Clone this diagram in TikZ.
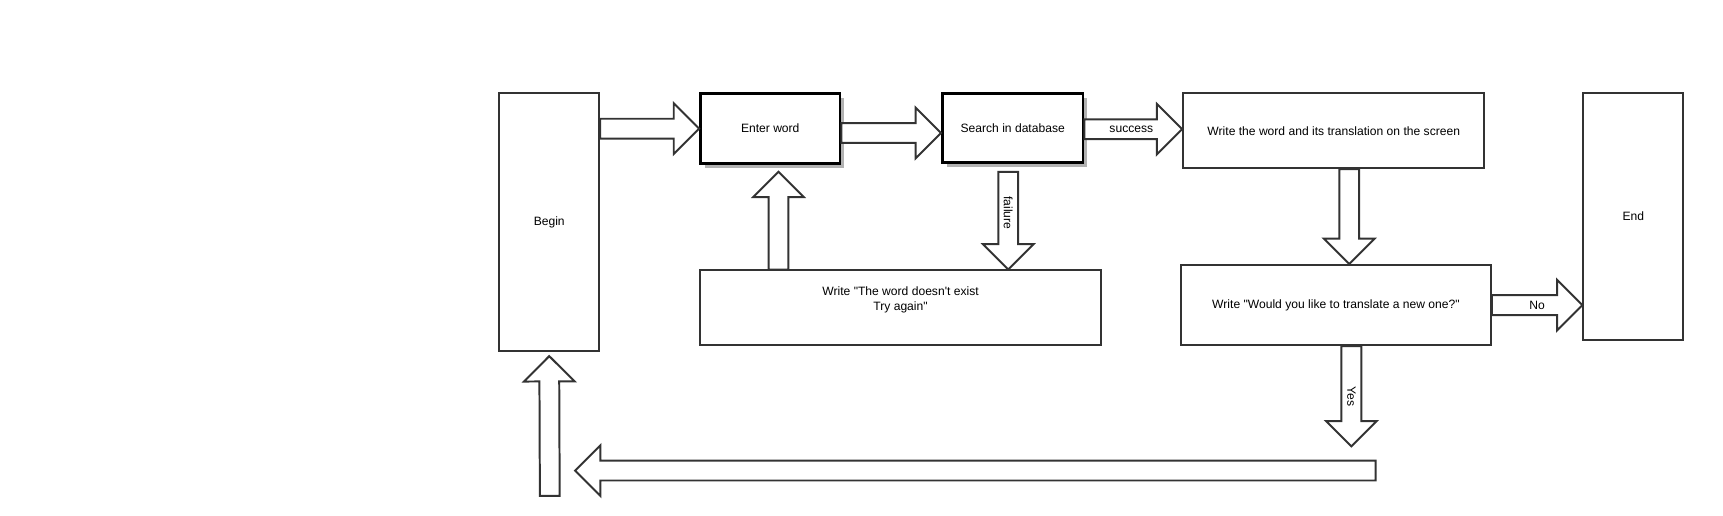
\documentclass[tikz,border=0pt]{standalone}
\usepackage{fontspec}
\setmainfont{Liberation Sans}[Ligatures=TeXOff]
\usetikzlibrary{calc,shadows}
\definecolor{ln}{HTML}{333333}
\tikzset{
  box/.style={draw=ln, line width=1.8pt, fill=white, rectangle, inner sep=0pt,
    font=\fontsize{11}{13}\selectfont, align=center},
  shbox/.style={box, draw=black, line width=2.5pt,
    general shadow={fill=black!30, shadow xshift=4pt, shadow yshift=-4pt}},
  blockarrow/.style={draw=ln, line width=1.8pt, fill=white, line join=miter},
  lbl/.style={font=\fontsize{11}{13}\selectfont, inner sep=0pt},
}
\newcommand{\barrow}[2]{%
  \coordinate (#1h) at ($(#2)!23pt!(#1)$);
  \draw[blockarrow] ($(#1)!9pt!90:(#2)$) -- ($(#1h)!9pt!90:(#2)$)
    -- ($(#1h)!23pt!90:(#2)$) -- (#2) -- ($(#1h)!23pt!-90:(#2)$)
    -- ($(#1h)!9pt!-90:(#2)$) -- ($(#1)!9pt!-90:(#2)$) -- cycle;}
\begin{document}
\begin{tikzpicture}[x=1pt,y=1pt]
\useasboundingbox (0,0) rectangle (1567,468.4);
% nodes
\node[box, minimum width=91, minimum height=234] (begin) at (499.5,266.4) {Begin};
\node[shbox, minimum width=127, minimum height=64] (enter) at (700.5,351.4) {Enter word};
\node[shbox, minimum width=128, minimum height=63] (search) at (921,351.9) {Search in database};
\node[box, minimum width=274, minimum height=68] (wword) at (1213,349.4) {Write the word and its translation on the screen};
\node[box, minimum width=91, minimum height=224] (endn) at (1485.5,271.4) {End};
\node[box, minimum width=364, minimum height=68] (notex) at (819,188.4) {Write "The word doesn't exist\\Try again"\\\strut};
\node[box, minimum width=282, minimum height=73] (wnew) at (1215,190.9) {Write "Would you like to translate a new one?"};
% connector end points
\coordinate (a1s) at (begin.east |- enter.west);
\coordinate (a1e) at (enter.west);
\coordinate (a2s) at ([yshift=-4]enter.east);
\coordinate (a2e) at (search.west |- a2s);
\coordinate (a3s) at ([yshift=-1]search.east);
\coordinate (a3e) at (wword.west |- a3s);
\coordinate (a4s) at ([xshift=14]wword.south);
\coordinate (a4e) at (a4s |- wnew.north);
\coordinate (a5s) at (wnew.east);
\coordinate (a5e) at (endn.west |- a5s);
\coordinate (a6s) at ([xshift=14]wnew.south);
\coordinate (a6e) at ([yshift=-91]a6s);
\coordinate (a7s) at (1251,40.4);
\coordinate (a7e) at (523,40.4);
\coordinate (a8s) at (500,17.4);
\coordinate (a8e) at ([yshift=-4]begin.south);
\coordinate (a9s) at ([xshift=-111]notex.north);
\coordinate (a9e) at ([yshift=-6]a9s |- enter.south);
\coordinate (a10e) at ([xshift=98]notex.north);
\coordinate (a10s) at ([yshift=-7]a10e |- search.south);
% connectors
\barrow{a1s}{a1e}
\barrow{a2s}{a2e}
\barrow{a3s}{a3e}
\barrow{a4s}{a4e}
\barrow{a5s}{a5e}
\barrow{a6s}{a6e}
\barrow{a7s}{a7e}
\barrow{a8s}{a8e}
\barrow{a9s}{a9e}
\barrow{a10s}{a10e}
% labels
\node[lbl] (lsucc) at ($(a3s)!0.48!(a3e)$) {success};
\node[lbl] (lno) at ($(a5s)!0.5!(a5e)$) {No};
\node[lbl, rotate=-90] (lfail) at ($(a10s)!0.42!(a10e)$) {failure};
\node[lbl, rotate=-90] (lyes) at ($(a6s)!0.5!(a6e)$) {Yes};
\end{tikzpicture}
\end{document}
